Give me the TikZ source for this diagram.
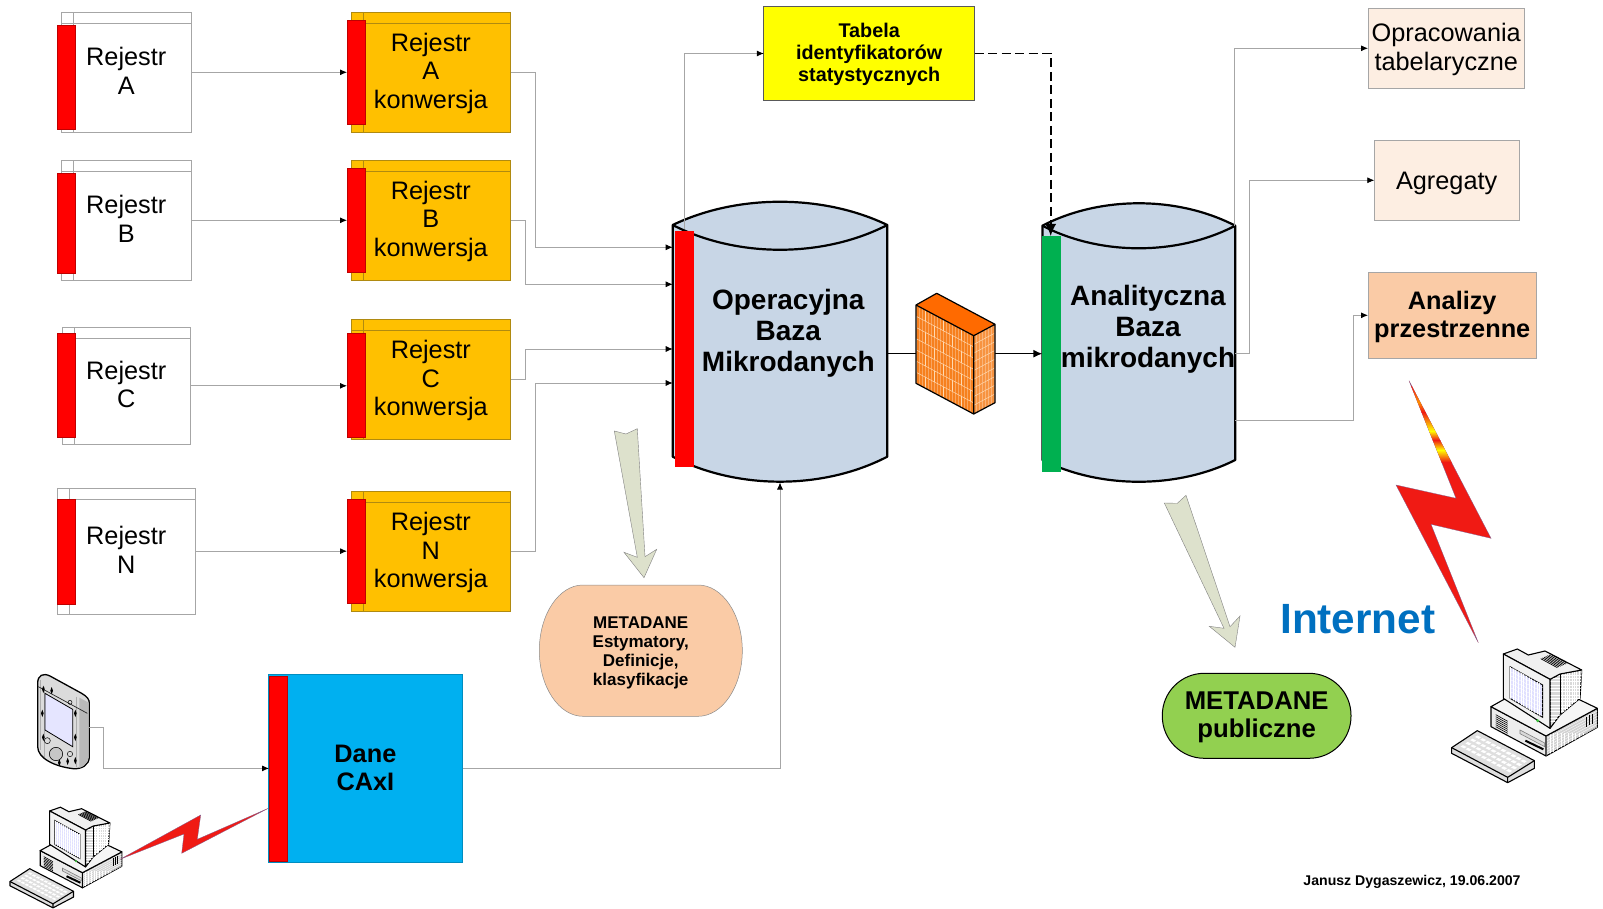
\documentclass[tikz,border=0pt]{standalone}
\usepackage{fontspec}
\setmainfont{Liberation Sans}
\usetikzlibrary{arrows.meta}
\definecolor{conngray}{HTML}{A6A6A6}
\definecolor{orangebox}{HTML}{FFC000}
\definecolor{orangeedge}{HTML}{B08A10}
\definecolor{dbblue}{HTML}{C8D6E6}
\definecolor{peachlight}{HTML}{FDEEE2}
\definecolor{peach}{HTML}{FACBA6}
\definecolor{sage}{HTML}{DDE1CC}
\definecolor{boltred}{HTML}{F01A14}
\definecolor{boltedge}{HTML}{806090}
\definecolor{cyanbox}{HTML}{00B0F0}
\definecolor{bricklight}{HTML}{FFD9B0}
\definecolor{brickbase}{HTML}{F6801E}
\definecolor{pureyellow}{HTML}{FFFF00}
\definecolor{boltorange}{HTML}{FF9000}
\tikzset{
  every node/.style={inner sep=0pt,outer sep=0pt},
  conn/.style={draw=conngray,line width=.8pt,-{Latex[black,length=7pt,width=6pt]}},
  strong/.style={draw=black,line width=1.5pt},
  strongarrow/.style={draw=black,line width=1.5pt,-{Latex[black,length=9pt,width=8pt]}},
  dashconn/.style={draw=black,line width=1.6pt,dash pattern=on 9pt off 4.5pt,-{Latex[black,length=12pt,width=11pt]}},
  regbox/.style={draw=conngray,fill=white,line width=.8pt},
  convbox/.style={draw=orangeedge,fill=orangebox,line width=.8pt},
  redbar/.style={draw=red!75!black,fill=red,line width=.5pt},
  dbshape/.style={draw=black,fill=dbblue,line width=2.2pt,line join=round},
  blockarrow/.style={draw=gray,fill=sage,line width=.4pt,line join=miter},
  bolt/.style={fill=boltred,draw=boltedge,line width=.3pt},
  tn/.style={align=center,font=\fontsize{25.3}{28.5}\selectfont},
  tb/.style={align=center,font=\fontsize{25.3}{28}\selectfont\bfseries},
  tbb/.style={align=center,font=\fontsize{25.7}{28}\selectfont\bfseries},
  tdb/.style={align=center,font=\fontsize{28}{31}\selectfont\bfseries},
  ts/.style={align=center,font=\fontsize{19.8}{22}\selectfont\bfseries},
  tm/.style={align=center,font=\fontsize{17}{19}\selectfont\bfseries},
  pcline/.style={draw=black,line width=1.1pt,line join=round},
}
% rectangle node given by its corners
\newcommand\rbox[7]{%
  \pgfmathsetmacro\bcx{(#3+#5)/2}\pgfmathsetmacro\bcy{(#4+#6)/2}%
  \pgfmathsetmacro\bw{#5-#3}\pgfmathsetmacro\bh{#6-#4}%
  \node[#2,minimum width=\bw pt,minimum height=\bh pt] (#1) at (\bcx,\bcy) {#7};}
% storage box: name x1 y1 x2 y2 vx hy style text
\newcommand\stor[9]{%
  \rbox{#1}{#8}{#2}{#3}{#4}{#5}{#9}%
  \draw[#8,fill=none] (#6,#3) -- (#6,#5) (#2,#7) -- (#4,#7);}
\newcommand\lns[1]{\strut\raisebox{-2pt}{#1}}
% computer icon in its own 3x coordinates
\newcommand\pcicon[1]{%
\begin{scope}[#1]
  % keyboard
  \filldraw[pcline,fill=gray!25] (215,1133)--(292,1082)--(463,1172)--(463,1195)--(383,1238)--(215,1150)--cycle;
  \draw[pcline] (215,1133)--(383,1222)--(463,1172) (383,1222)--(383,1238);
  \foreach \i in {1,...,4}{\foreach \j in {0,...,9}{
    \pgfmathsetmacro\kx{215+(\j+.8)*15.2+\i*14.5}
    \pgfmathsetmacro\ky{1133+(\j+.8)*8-\i*9.6}
    \fill[white] (\kx,\ky)--(\kx+7,\ky-4.5)--(\kx+18,\ky+1)--(\kx+11,\ky+5.5)--cycle;}}
  % case
  \filldraw[pcline,fill=gray!35] (498,1098)--(652,1015)--(652,1072)--(498,1158)--cycle;
  \begin{scope}
    \clip (498,1098)--(652,1015)--(652,1072)--(498,1158)--cycle;
    \foreach \k in {0,...,15}{\draw[white,line width=.35pt] (498+\k*11,1090)--(498+\k*11,1165);
       \draw[white,line width=.35pt] (498,1098+\k*8-40)--(652,1015+\k*8-40);}
  \end{scope}
  \draw[black,line width=.8pt] (620,1040)--(620,1070) (628,1036)--(628,1066) (636,1032)--(636,1062);
  \filldraw[pcline,fill=gray!15] (333,1010)--(498,1098)--(498,1158)--(333,1070)--cycle;
  \foreach \k in {0,...,6}{\draw[black,line width=.6pt] (347,1034+\k*6)--(383,1054+\k*6);}
  \draw[gray,line width=.6pt,fill=gray!30] (420,1080)--(494,1119)--(494,1130)--(420,1091)--cycle;
  \draw[black,line width=2pt] (436,1112)--(490,1138);
  \filldraw[pcline,fill=gray!8] (333,1010)--(372,988)--(590,985)--(652,1015)--(498,1098)--cycle;
  % monitor
  \filldraw[pcline,fill=gray!30] (510,928)--(540,912)--(605,900)--(600,985)--(540,1035)--(510,1075)--cycle;
  \begin{scope}
    \clip (510,928)--(540,912)--(605,900)--(600,985)--(540,1035)--(510,1075)--cycle;
    \foreach \k in {0,...,14}{\draw[white,line width=.35pt] (540+\k*7,890)--(540+\k*7,1050);
       \draw[white,line width=.35pt] (505,915+\k*10)--(610,915+\k*10);}
    \draw[black,line width=.5pt] (540,912)--(540,1035);
  \end{scope}
  \filldraw[pcline,fill=gray!12] (370,852)--(412,837)--(445,855)--(495,843)--(605,900)--(540,912)--(510,928)--cycle;
  \foreach \k in {0,...,6}{\draw[black,line width=.7pt] (482+\k*5,866-\k*2.2)--(532+\k*5,893-\k*2.2);}
  \filldraw[pcline,fill=gray!10] (370,852)--(510,928)--(510,1075)--(370,985)--cycle;
  \filldraw[draw=black,line width=.9pt,fill=blue!12!white] (390,890)--(488,945)--(488,1042)--(390,985)--cycle;
  \begin{scope}
    \clip (390,890)--(488,945)--(488,1042)--(390,985)--cycle;
    \foreach \k in {0,...,12}{\draw[white,line width=.3pt] (390+\k*8,880)--(390+\k*8,1050);
       \draw[white,line width=.3pt] (385,890+\k*12)--(495,945+\k*12);}
  \end{scope}
  \fill[green!50!gray] (473,1052) circle (5);
\end{scope}}
\begin{document}
\begin{tikzpicture}[x=1pt,y=-1pt]
\useasboundingbox (0,0) rectangle (1603,909);
\fill[white] (0,0) rectangle (1603,909);

% ---------- register boxes
\stor{ra}{61}{12.3}{191.5}{132.3}{73.3}{23.3}{regbox,tn}{\lns{Rejestr}\\\lns{A}}
\stor{rb}{61}{160.3}{191.5}{280.3}{73.3}{171.3}{regbox,tn}{\lns{Rejestr}\\\lns{B}}
\stor{rc}{62.3}{327.3}{190.3}{444.3}{74.3}{338.3}{regbox,tn}{\lns{Rejestr}\\\lns{C}}
\stor{rn}{57.3}{488}{195.3}{614.3}{69.3}{499.3}{regbox,tn}{\lns{Rejestr}\\\lns{N}}
\rbox{rab}{redbar}{57}{25}{75.7}{129.7}{}
\rbox{rbb}{redbar}{57}{173}{75.7}{273.7}{}
\rbox{rcb}{redbar}{57}{333.3}{75.7}{437.7}{}
\rbox{rnb}{redbar}{57}{499.3}{75.7}{604.7}{}

\stor{ca}{351}{12.3}{510.7}{132.3}{363.3}{23.3}{convbox,tn}{\lns{Rejestr}\\\lns{A}\\\lns{konwersja}}
\stor{cb}{351}{160.3}{510.7}{280.3}{363.3}{171.3}{convbox,tn}{\lns{Rejestr}\\\lns{B}\\\lns{konwersja}}
\stor{cc}{351}{319.3}{510.7}{439.3}{363.3}{330.3}{convbox,tn}{\lns{Rejestr}\\\lns{C}\\\lns{konwersja}}
\stor{cn}{351}{491.7}{510.7}{611.7}{363.3}{502.7}{convbox,tn}{\lns{Rejestr}\\\lns{N}\\\lns{konwersja}}
\rbox{cab}{redbar}{347}{20.3}{365.7}{124.3}{}
\rbox{cbb}{redbar}{347}{168.3}{365.7}{272.7}{}
\rbox{ccb}{redbar}{347}{333.3}{365.7}{437.7}{}
\rbox{cnb}{redbar}{347}{499.3}{365.7}{603.7}{}

\draw[conn] (ra.east) -- (ra.east -| cab.west);
\draw[conn] (rb.east) -- (rb.east -| cbb.west);
\draw[conn] (rc.east) -- (rc.east -| ccb.west);
\draw[conn] (rn.east) -- (rn.east -| cnb.west);

% ---------- entry points of the databases
\coordinate (opA) at (672.7,247.3);
\coordinate (opB) at (672.7,284.3);
\coordinate (opC) at (672.7,349);
\coordinate (opN) at (672.7,383);
\coordinate (opT) at (684.3,229);
\coordinate (opR) at (887.3,353.7);
\coordinate (opS) at (780,482.5);
\coordinate (fwL) at (916,353.7);
\coordinate (fwR) at (995,353.7);
\coordinate (anL) at (1042.4,353.7);
\coordinate (anT) at (1050.7,236);
\coordinate (anU) at (1234.5,226);
\coordinate (anM) at (1235.2,353.3);
\coordinate (anD) at (1235.2,420);

% ---------- connectors into the database
\draw[conn] (ca.east) -- ++(24.8,0) |- (opA);
\draw[conn] (cb.east) -- ++(14.6,0) |- (opB);
\draw[conn] (cc.east) -- ++(14.6,0) |- (opC);
\draw[conn] (cn.east) -- ++(24.8,0) |- (opN);

% ---------- operational database
\path[dbshape] (672.7,225) .. controls (737.1,194) and (822.9,194) .. (887.3,225)
  -- (887.3,456.7) .. controls (822.9,490) and (737.1,490) .. (672.7,456.7) -- cycle;
\draw[dbshape,fill=none] (672.7,225) .. controls (737.1,258) and (822.9,258) .. (887.3,225);
\rbox{opb}{fill=red}{675}{231}{693.7}{466.7}{}
\node[tdb] (op) at (788.3,332.6) {\lns{Operacyjna}\\\lns{Baza}\\\lns{Mikrodanych}};

% ---------- analytical database
\path[dbshape] (1042.4,225.7) .. controls (1100.2,195.8) and (1177.4,195.8) .. (1235.2,225.7)
  -- (1235.2,460) .. controls (1177.4,489) and (1100.2,489) .. (1042.4,460) -- cycle;
\draw[dbshape,fill=none] (1042.4,225.7) .. controls (1100.2,255.8) and (1177.4,255.8) .. (1235.2,225.7);
\rbox{anb}{fill={rgb,255:red,0;green,176;blue,80}}{1041.7}{236}{1061}{471.7}{}
\node[tdb] (an) at (1148,328.6) {\lns{Analityczna}\\\lns{Baza}\\\lns{mikrodanych}};

% ---------- table box
\rbox{tab}{draw=black!65,fill=pureyellow,line width=1pt,ts}{763.8}{6.7}{974.5}{100.3}{\lns{Tabela}\\\lns{identyfikatorów}\\\lns{statystycznych}}
\draw[conn] (opT) |- (tab.west);
\draw[dashconn] (tab.east) -| (anT);

% ---------- output boxes
\rbox{opr}{draw=conngray,fill=peachlight,line width=.8pt,tn}{1368}{8.3}{1524.5}{88.3}{\lns{Opracowania}\\\lns{tabelaryczne}}
\rbox{agr}{draw=conngray,fill=peachlight,line width=.8pt,tn}{1374.3}{140.3}{1519}{220.3}{\lns{\raisebox{-1.5pt}{Agregaty}}}
\rbox{anz}{draw=conngray,fill=peach,line width=.8pt,tb}{1368}{272.3}{1536.5}{358.3}{\lns{\raisebox{-1pt}{Analizy}}\\\lns{\raisebox{-1pt}{przestrzenne}}}
\draw[conn] (anU) |- (opr.west);
\draw[conn] (anM) -- ++(14.5,0) |- (agr.west);
\draw[conn] (anD) -- ++(118.1,0) |- (anz.west);

% ---------- firewall
\draw[strong] (opR) -- (fwL);
\draw[strongarrow] (fwR) -- (anL);
\path[fill=brickbase] (916,305)--(973.7,335.7)--(973.7,414)--(916,383.3)--cycle;
\path[fill=brickbase!85!white] (973.7,335.7)--(995,324.3)--(995,402.7)--(973.7,414)--cycle;
\begin{scope}
  \clip (916,305)--(973.7,335.7)--(973.7,414)--(916,383.3)--cycle;
  \foreach \k in {0,...,19}{\draw[brickbase!70!white,line width=.6pt] (916+\k*3,300)--(916+\k*3,420);}
  \foreach \r in {1,...,7}{
    \draw[bricklight,line width=.5pt] (916,305+\r*11.2)--(973.7,335.7+\r*11.2);
    \pgfmathsetmacro\st{mod(\r,2)*9}
    \foreach \c in {0,...,3}{
      \pgfmathsetmacro\vx{916+\st+\c*18}
      \pgfmathsetmacro\vy{305+(\r-1)*11.2+(\vx-916)*.532}
      \draw[bricklight,line width=.5pt] (\vx,\vy)--(\vx,\vy+11.2);}}
\end{scope}
\begin{scope}
  \clip (973.7,335.7)--(995,324.3)--(995,402.7)--(973.7,414)--cycle;
  \foreach \k in {0,...,7}{\draw[brickbase!60!white,line width=.6pt] (973.7+\k*3,320)--(973.7+\k*3,420);}
  \foreach \r in {1,...,8}{\draw[bricklight,line width=.5pt] (973.7,335.7+\r*8.7)--(995,324.3+\r*8.7);}
\end{scope}
\path[fill={rgb,255:red,255;green,106;blue,0}] (916,305)--(936.7,293.3)--(995,324.3)--(973.7,335.7)--cycle;
\draw[draw=black,line width=1.2pt,line join=round] (916,305)--(936.7,293.3)--(995,324.3)--(995,402.7)--(973.7,414)--(916,383.3)--cycle (916,305)--(973.7,335.7)--(995,324.3) (973.7,335.7)--(973.7,414);

% ---------- metadata shapes and block arrows
\path[draw=gray!90,fill=peach,line width=.5pt] (583,585) -- (698,585)
  .. controls (722.4,585) and (742.3,614.4) .. (742.3,650.6)
  .. controls (742.3,686.8) and (722.4,716.3) .. (698,716.3) -- (583,716.3)
  .. controls (558.9,716.3) and (539.3,686.8) .. (539.3,650.6)
  .. controls (539.3,614.4) and (558.9,585) .. (583,585) -- cycle;
\node[tm] (meta) at (640.7,651.0) {\lns{METADANE}\\\lns{Estymatory,}\\\lns{Definicje,}\\\lns{klasyfikacje}};
\path[blockarrow] (614.3,431)--(626,434)--(637.3,428.7)--(645,556.7)--(656.7,549.3)--(644,577.7)--(624,552.3)--(637.3,557.3)--cycle;
\path[blockarrow] (1164.3,503)--(1177.3,503.3)--(1186,495.3)--(1230,626.7)--(1240,616)--(1235,647.3)--(1209.3,626.3)--(1224,628.3)--cycle;
\rbox{pub}{draw=black,fill={rgb,255:red,146;green,208;blue,80},line width=1pt,rounded corners=42pt,tbb}{1162.3}{673.3}{1351}{758.3}{\lns{METADANE}\\\lns{publiczne}}

% ---------- CAxI block
\rbox{dane}{draw=cyanbox!80!black,fill=cyanbox,line width=.8pt,tb}{268.3}{674.3}{462.5}{862.3}{\lns{\raisebox{-.5pt}{Dane}}\\\lns{\raisebox{-.5pt}{CAxI}}}
\rbox{danb}{redbar}{269}{676}{287.7}{860.8}{}
\draw[conn] (dane.east) -| (opS);

% ---------- handheld
\begin{scope}[shift={(0,650)},scale=1/3]
  \path[draw=black,line width=1.3pt,fill=gray!28] (113,100) .. controls (113,75) and (130,68) .. (150,78)
    -- (245,130) .. controls (262,140) and (268,148) .. (268,160) -- (268,320)
    .. controls (268,345) and (245,358) .. (220,356) .. controls (165,350) and (113,325) .. (113,290) -- cycle;
  \path[fill=gray!55] (238,143) -- (266,158) -- (266,322) .. controls (262,340) and (250,350) .. (238,354) -- cycle;
  \draw[gray!65,line width=.5pt] (122,90)--(122,300) (230,140)--(230,350) (132,110)--(132,320) ;
  \draw[gray!30!black,line width=.7pt] (115,110)--(262,190) ;
  \filldraw[draw=black,line width=.8pt,fill=blue!10!white] (135,130)--(218,178)--(218,290)--(135,240)--cycle;
  \foreach \bx/\by in {130/118,155/122,127/190,226/190,226/262,130/262,178/338,203/334,226/332}{
    \fill[black] (\bx-4,\by) -- (\bx,\by-11) -- (\bx+4,\by) -- (\bx,\by+11) -- cycle;}
  \draw[black,line width=.5pt] (210,157) circle (6) (142,272) circle (9) (210,312) circle (8);
  \filldraw[draw=black,line width=.6pt,fill=gray!45] (168,312) circle (20);
\end{scope}
\coordinate (pda) at (89.3,727.3);
\draw[conn] (pda) -- ++(14.4,0) |- (danb.west);

% ---------- computers and lightning
\pcicon{shift={(-45.04,597.1)},xscale=.256,yscale=.251}
\pcicon{shift={(1380,370)},scale=1/3}
\path[bolt] (120,859.3)--(200.7,815)--(197.3,839.3)--(268.3,808.3)--(181.7,853.3)--(184,834)--cycle;
\path[bolt] (1409,380.7)--(1491,538.3)--(1431,524.3)--(1478.3,642.7)--(1396,485)--(1456,498.3)--cycle;
\begin{scope}
  \clip (1409,380.7)--(1491,538.3)--(1431,524.3)--(1478.3,642.7)--(1396,485)--(1456,498.3)--cycle;
  \shade[top color=boltred,bottom color=boltorange] (1400,386) rectangle (1470,402);
  \shade[top color=boltorange,bottom color=boltred] (1400,402) rectangle (1470,412);
  \shade[top color=boltred,bottom color=pureyellow] (1400,412) rectangle (1470,431);
  \shade[top color=pureyellow,bottom color=boltred] (1400,431) rectangle (1470,440);
  \shade[top color=boltred,bottom color=pureyellow] (1400,440) rectangle (1470,450);
  \shade[top color=pureyellow,bottom color=boltred] (1400,450) rectangle (1470,462);
\end{scope}

% ---------- free texts
\node[anchor=base,font=\fontsize{42.3}{46}\selectfont\bfseries,text={rgb,255:red,0;green,112;blue,192}] (net) at (1357.8,633.2) {Internet};
\node[anchor=base,font=\fontsize{14.1}{16}\selectfont\bfseries] (auth) at (1412,885) {Janusz Dygaszewicz, 19.06.2007};
\end{tikzpicture}
\end{document}
